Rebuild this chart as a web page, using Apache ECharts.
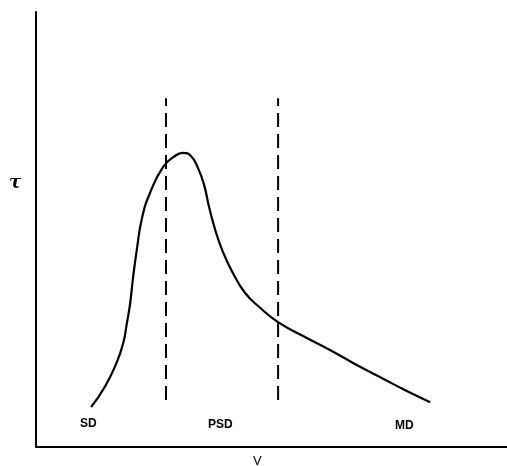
<!DOCTYPE html>
<html>
<head>
<meta charset="UTF-8">
<title>tau - V</title>
<style type="text/css">
html, body {
	width: 100%;
	height: 100%;
	padding: 0px;
	margin: 0px;
	background: #fff;
}
</style>
<script src="https://cdn.jsdelivr.net/npm/echarts@6/dist/echarts.min.js"></script>
</head>
<body>
	<div id="chart" style="width: 100%; height: 100%;"></div>

	<script type="text/javascript">
        // curve (x: V, y: tau, arbitrary units 0..100)
        var curveV   = [11.7, 14.6, 17.0, 18.5, 19.3, 20.0, 20.6, 21.4, 22.5, 24.2, 27.0, 29.5, 31.2, 32.9, 34.4, 35.7, 36.7, 38.0, 39.7, 41.8, 44.4, 47.6, 51.4, 56.7, 62.4, 67.7, 73.0, 78.3, 83.7];
        var curveTau = [ 9.2, 13.8, 19.1, 23.8, 28.5, 33.1, 38.9, 45.3, 52.6, 58.4, 64.4, 66.9, 67.6, 66.9, 64.1, 60.2, 55.4, 50.1, 44.8, 40.0, 35.4, 32.0, 28.7, 25.5, 22.3, 19.1, 16.1, 13.1, 10.3];

        // dashed region boundaries
        var dividerV = [27.6, 51.4];
        var dividerTau = [10.8, 80.2];

        // region names
        var regionNames = ['SD', 'PSD', 'MD'];

        var myChart = echarts.init(document.getElementById('chart'));

        var curve = curveV.map(function (v, i) { return [v, curveTau[i]]; });

        var dividers = dividerV.map(function (v) {
            return {
                type: 'line',
                data: [[v, dividerTau[0]], [v, dividerTau[1]]],
                symbol: 'none',
                silent: true,
                lineStyle: { color: '#000', width: 2, type: [14, 7] }
            };
        });

        var labelFont = 'bold 12px "Liberation Sans", Arial, sans-serif';

        var option = {
            animation: false,
            backgroundColor: '#fff',
            grid: { left: 36, right: 0, top: 12, bottom: 19 },
            xAxis: {
                type: 'value', min: 0, max: 100,
                axisLine: { lineStyle: { color: '#000', width: 2 } },
                axisTick: { show: false },
                axisLabel: { show: false },
                splitLine: { show: false }
            },
            yAxis: {
                type: 'value', min: 0, max: 100,
                axisLine: { show: true, lineStyle: { color: '#000', width: 2 } },
                axisTick: { show: false },
                axisLabel: { show: false },
                splitLine: { show: false }
            },
            series: [{
                type: 'line',
                data: curve,
                smooth: 0.5,
                symbol: 'none',
                lineStyle: { color: '#000', width: 2.2 }
            }].concat(dividers),
            graphic: [
                { type: 'text', left: 80, top: 418, style: { text: regionNames[0], font: labelFont, fill: '#000' } },
                { type: 'text', left: 208, top: 419, style: { text: regionNames[1], font: labelFont, fill: '#000' } },
                { type: 'text', left: 395, top: 420, style: { text: regionNames[2], font: labelFont, fill: '#000' } },
                { type: 'text', left: 9, top: 174, style: { text: 'τ', font: 'italic bold 18px "DejaVu Serif", serif', fill: '#000' } },
                { type: 'text', left: 253, top: 455, style: { text: 'V', font: '13px "Liberation Sans", Arial, sans-serif', fill: '#000' } }
            ]
        };

        myChart.setOption(option);
	</script>
</body>
</html>
